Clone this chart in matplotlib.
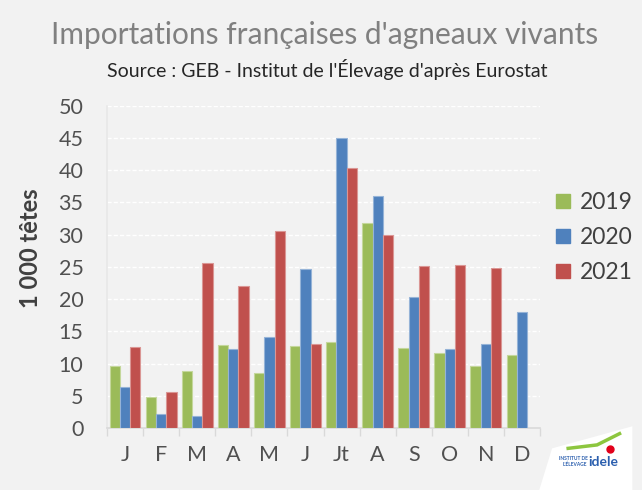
import numpy as np
import matplotlib
matplotlib.use("Agg")
import matplotlib.pyplot as plt
from matplotlib.patches import Polygon
from matplotlib.lines import Line2D

months = ["J", "F", "M", "A", "M", "J", "Jt", "A", "S", "O", "N", "D"]
series_names = ["2019", "2020", "2021"]
v2019 = [9.6, 4.8, 8.9, 12.9, 8.6, 12.8, 13.3, 31.8, 12.4, 11.7, 9.6, 11.4]
v2020 = [6.3, 2.2, 1.8, 12.2, 14.2, 24.7, 45.0, 36.0, 20.4, 12.2, 13.0, 18.0]
v2021 = [12.5, 5.6, 25.6, 22.0, 30.5, 13.1, 40.3, 29.9, 25.1, 25.3, 24.8, np.nan]
colors = ["#9BBB59", "#4F81BD", "#C0504D"]
edges = ["#c4d79b", "#95b3d7", "#da9694"]
yticks = list(range(0, 51, 5))

plt.rcParams['font.family'] = ['Lato', 'DejaVu Sans']
bg = "#F2F2F2"
fig = plt.figure(figsize=(6.42, 4.90), dpi=100, facecolor=bg)
ax = fig.add_axes([0.1667, 0.1265, 0.6745, 0.6575], facecolor=bg)

x = np.arange(len(months))
w = 0.285
for k, (vals, c, ec, name) in enumerate(zip([v2019, v2020, v2021], colors, edges, series_names)):
    ax.bar(x + (k - 1) * w, vals, width=w, color=c, edgecolor=ec, linewidth=0.8, label=name, zorder=3)

ax.set_xlim(-0.5, len(months) - 0.5)
ax.set_ylim(0, 50)
ax.set_yticks(yticks)
ax.set_yticklabels([str(t) for t in yticks], fontsize=15.5, color="#505050")
ax.set_xticks(x)
ax.set_xticklabels(months, fontsize=15.5, color="#505050")
ax.tick_params(axis='x', which='major', length=0, pad=12)
ax.tick_params(axis='y', length=0, pad=17)
ax.set_xticks(np.arange(-0.5, len(months), 1), minor=True)
ax.tick_params(axis='x', which='minor', length=6, color="#d9d9d9", width=1)

ax.yaxis.grid(True, color="white", linestyle=(0, (3, 1.5)), linewidth=1, zorder=0)
ax.set_axisbelow(True)
for s in ["top", "right"]:
    ax.spines[s].set_visible(False)
ax.spines["left"].set_color("#e8e8e8")
ax.spines["bottom"].set_color("#d9d9d9")
ax.spines["left"].set_linewidth(1.2)
ax.spines["bottom"].set_linewidth(1.2)

ax.set_ylabel("1 000 têtes", fontsize=17, fontweight="bold", color="#404040")
ax.yaxis.set_label_coords(-0.15, 0.558)

fig.text(0.505, 0.928, "Importations françaises d'agneaux vivants", ha="center", va="center",
         fontsize=21.5, color="#808080")
fig.text(0.509, 0.858, "Source : GEB - Institut de l'Élevage d'après Eurostat", ha="center", va="center",
         fontsize=14, color="#262626")

handles = [Line2D([0], [0], marker="s", linestyle="none", markersize=10, markerfacecolor=c,
                  markeredgecolor=c) for c in colors]
fig.legend(handles, series_names, loc="center left", bbox_to_anchor=(0.83, 0.515), frameon=False,
           labelcolor="#404040", handletextpad=0.35, labelspacing=0.62, handlelength=0.8,
           prop={"size": 16.5})

# logo approximation
logo = Polygon([[0.84, 0.0], [0.985, 0.0], [0.985, 0.13], [0.86, 0.085]], closed=True,
               transform=fig.transFigure, facecolor="white", edgecolor="none", joinstyle="round")
fig.patches.append(logo)
fig.text(0.917, 0.058, "idele", fontsize=10, fontweight="bold", color="#2b5fae", ha="left", va="center")
fig.text(0.915, 0.058, "INSTITUT DE\nL'ÉLEVAGE", fontsize=3.5, fontweight="bold", color="#2b5fae",
         ha="right", va="center")
fig.add_artist(Line2D([0.885, 0.93, 0.965], [0.085, 0.092, 0.115], color="#8dc63f", linewidth=2.5,
                      transform=fig.transFigure))
fig.add_artist(Line2D([0.95], [0.083], marker="o", markersize=5, color="#e2001a",
                      transform=fig.transFigure))

fig.savefig("out.png", dpi=100, facecolor=bg)
